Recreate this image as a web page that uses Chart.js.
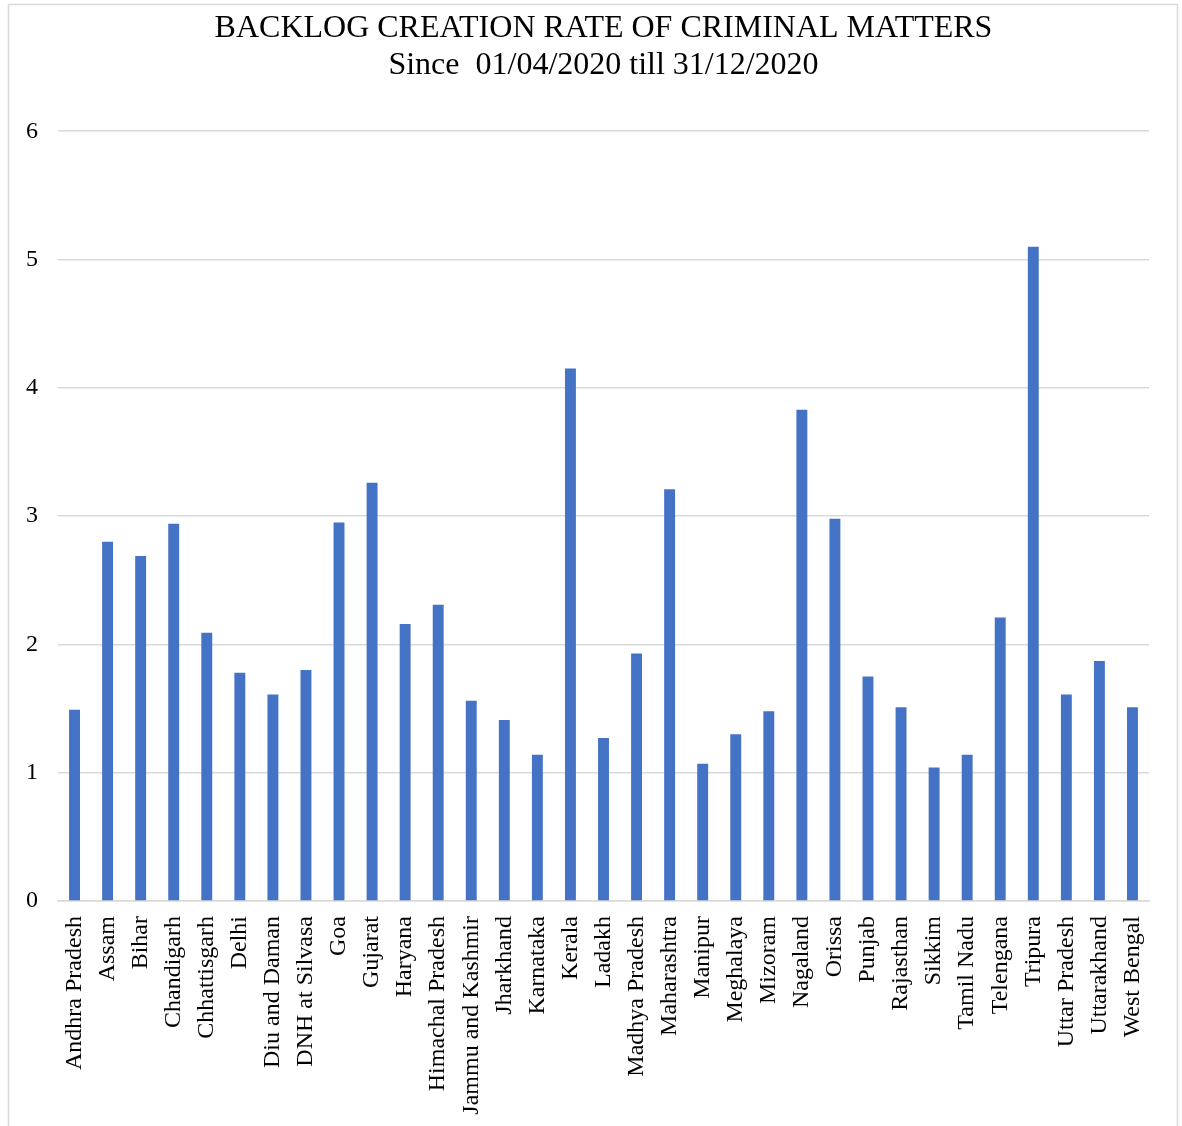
<!DOCTYPE html>
<html>
<head>
<meta charset="utf-8">
<script src="https://cdn.jsdelivr.net/npm/chart.js@4/dist/chart.umd.min.js"></script>
<style>
  html, body { margin: 0; padding: 0; background: #fff; }
  #wrap { width: 1182px; height: 1126px; }
</style>
</head>
<body>
<div id="wrap"><canvas id="myChart" width="1182" height="1126"></canvas></div>
<script>
const states = [
  "Andhra Pradesh", "Assam", "Bihar", "Chandigarh", "Chhattisgarh", "Delhi",
  "Diu and Daman", "DNH at Silvasa", "Goa", "Gujarat", "Haryana",
  "Himachal Pradesh", "Jammu and Kashmir", "Jharkhand", "Karnataka", "Kerala",
  "Ladakh", "Madhya Pradesh", "Maharashtra", "Manipur", "Meghalaya", "Mizoram",
  "Nagaland", "Orissa", "Punjab", "Rajasthan", "Sikkim", "Tamil Nadu",
  "Telengana", "Tripura", "Uttar Pradesh", "Uttarakhand", "West Bengal"
];
const backlogRate = [
  1.49, 2.80, 2.69, 2.94, 2.09, 1.78,
  1.61, 1.80, 2.95, 3.26, 2.16,
  2.31, 1.56, 1.41, 1.14, 4.15,
  1.27, 1.93, 3.21, 1.07, 1.30, 1.48,
  3.83, 2.98, 1.75, 1.51, 1.04, 1.14,
  2.21, 5.10, 1.61, 1.87, 1.51
];
const titleLines = [
  "BACKLOG CREATION RATE OF CRIMINAL MATTERS",
  "Since  01/04/2020 till 31/12/2020"
];

const serif = "'Liberation Serif', 'Times New Roman', serif";

// thin grey frame round the whole chart
const framePlugin = {
  id: "frame",
  beforeDraw(chart) {
    const c = chart.ctx;
    c.save();
    c.fillStyle = "#fff";
    c.fillRect(0, 0, chart.width, chart.height);
    c.strokeStyle = "#d9d9d9";
    c.lineWidth = 1.5;
    c.strokeRect(8.5, 4.5, 1169, 1140);
    c.restore();
  }
};

const ctx = document.getElementById("myChart");
new Chart(ctx, {
  type: "bar",
  plugins: [framePlugin],
  data: {
    labels: states,
    datasets: [
      {
        label: "Backlog creation rate",
        data: backlogRate,
        backgroundColor: "#4472C4",
        borderWidth: 0,
        barPercentage: 0.33,
        categoryPercentage: 1.0,
      },
    ],
  },
  options: {
    responsive: false,
    animation: false,
    devicePixelRatio: 1,
    layout: { padding: { left: 9, right: 33, top: 4, bottom: 0 } },
    plugins: {
      legend: { display: false },
      tooltip: { enabled: false },
      title: {
        display: true,
        fullSize: false, // centre over the plot area
        text: titleLines,
        color: "#000",
        font: { family: serif, size: 32, weight: "normal", lineHeight: 1.16 },
        padding: { top: 6, bottom: 47 },
      },
    },
    scales: {
      x: {
        grid: { display: false, drawTicks: false },
        border: { display: true, color: "#d9d9d9", width: 1.5 },
        ticks: {
          color: "#000",
          font: { family: serif, size: 24 },
          minRotation: 90,
          maxRotation: 90,
          autoSkip: false,
          padding: 15,
        },
        afterFit(scale) { scale.height = 225; },
      },
      y: {
        min: 0,
        max: 6,
        grid: { color: "#d9d9d9", lineWidth: 1.5, drawTicks: false },
        border: { display: false },
        ticks: {
          stepSize: 1,
          color: "#000",
          font: { family: serif, size: 24 },
          padding: 20,
        },
        afterFit(scale) { scale.width = 49; },
      },
    },
  },
});
</script>
</body>
</html>
